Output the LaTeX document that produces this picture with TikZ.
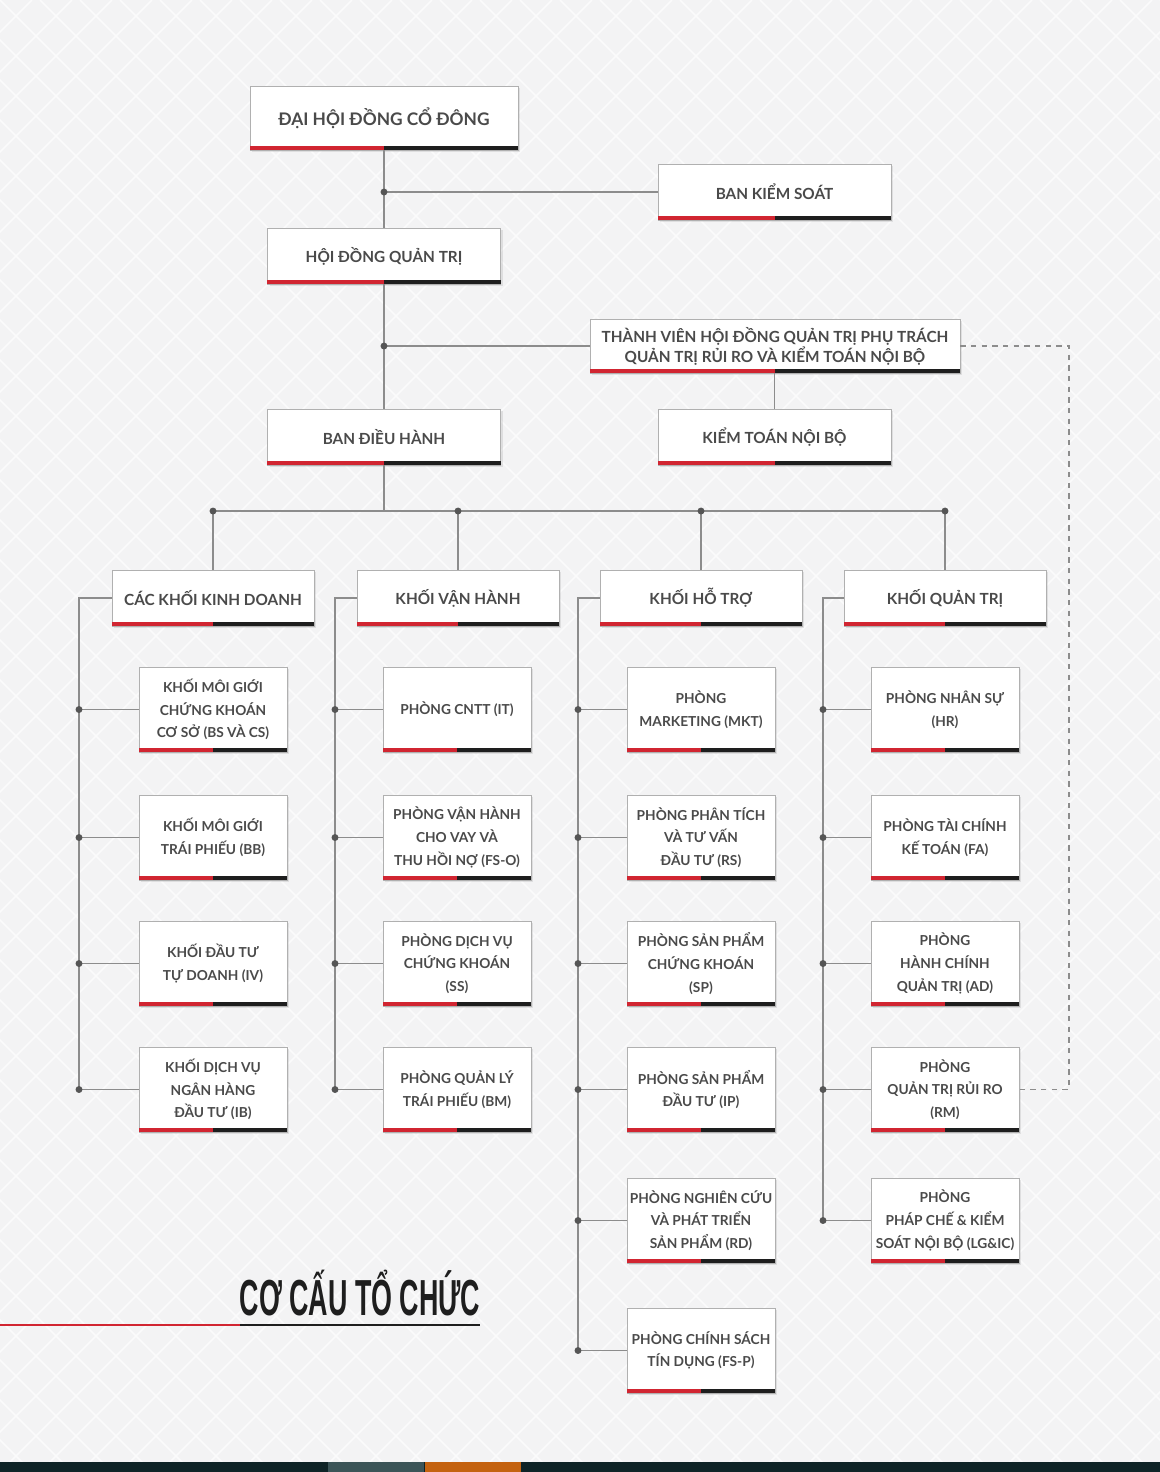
\documentclass[tikz,border=0pt]{standalone}
\usepackage{fontspec}
\setmainfont{Lato}
\newfontfamily\titlefont{Liberation Sans}
\usetikzlibrary{shadows}
\definecolor{bgc}{HTML}{F3F3F4}
\definecolor{patc}{HTML}{FBFBFB}
\definecolor{redc}{HTML}{D12531}
\definecolor{darkc}{HTML}{1E1E1E}
\definecolor{linec}{HTML}{8C8C8C}
\definecolor{boxc}{HTML}{B0B0B0}
\definecolor{txtc}{HTML}{4A4A4A}
\definecolor{dotc}{HTML}{555555}
\definecolor{stripc}{HTML}{0E2326}
\definecolor{stripg}{HTML}{3B5457}
\definecolor{stripo}{HTML}{C4620F}
\newcommand\ob[7]{%
  \node[orgbox,#6,minimum width=#4*0.75pt,minimum height=#5*0.75pt] (#1) at (#2,#3) {#7};
  \fill[redc] (#1.south west) rectangle ([yshift=3pt]#1.south);
  \fill[darkc] (#1.south) rectangle ([yshift=3pt]#1.south east);
}
\begin{document}
\begin{tikzpicture}[x=0.75pt,y=-0.75pt,
  orgbox/.style={draw=boxc,line width=0.6pt,fill=white,inner sep=0pt,align=center,text=txtc,
    drop shadow={opacity=0.18,shadow xshift=1.5pt,shadow yshift=-1.5pt}},
  bigb/.style={font=\bfseries\fontsize{13}{16}\selectfont},
  topb/.style={font=\bfseries\fontsize{11.5}{15}\selectfont},
  subb/.style={font=\bfseries\fontsize{10.3}{17}\selectfont},
  conn/.style={draw=linec,line width=1.1pt},
  dashc/.style={draw=linec,line width=1pt,dash pattern=on 4pt off 4pt}]
\useasboundingbox (0,0) rectangle (1160,1472);
\fill[bgc] (0,0) rectangle (1160,1472);
\begin{scope}
\clip (0,0) rectangle (1160,1462);
\foreach \i in {-1480,-1440,...,1160} {
  \draw[patc,line width=1.2pt] (\i,0) -- ++(1472,1472);
  \draw[patc,line width=1.2pt] (\i+1472,0) -- ++(-1472,1472);
}
\end{scope}
% bottom strip
\fill[stripc] (0,1462) rectangle (1160,1472);
\fill[stripg] (328,1462) rectangle (424,1472);
\fill[stripo] (425,1462) rectangle (521,1472);

% top boxes
\ob{dhd}{384}{118}{268}{64}{bigb}{ĐẠI HỘI ĐỒNG CỔ ĐÔNG}
\ob{bks}{774.5}{192}{233}{56}{topb}{BAN KIỂM SOÁT}
\ob{hdqt}{384}{256}{233}{56}{topb}{HỘI ĐỒNG QUẢN TRỊ}
\ob{tv}{775}{346}{370}{54}{topb}{THÀNH VIÊN HỘI ĐỒNG QUẢN TRỊ PHỤ TRÁCH\\QUẢN TRỊ RỦI RO VÀ KIỂM TOÁN NỘI BỘ}
\ob{bdh}{384}{437}{233}{56}{topb}{BAN ĐIỀU HÀNH}
\ob{ktnb}{774.5}{437}{233}{56}{topb}{KIỂM TOÁN NỘI BỘ}

% category boxes
\ob{c1}{213}{598}{202}{56}{topb}{CÁC KHỐI KINH DOANH}
\ob{c2}{458}{598}{202}{56}{topb}{KHỐI VẬN HÀNH}
\ob{c3}{701}{598}{202}{56}{topb}{KHỐI HỖ TRỢ}
\ob{c4}{945}{598}{202}{56}{topb}{KHỐI QUẢN TRỊ}

% column 1
\ob{a1}{213}{709.5}{148}{85}{subb}{KHỐI MÔI GIỚI\\CHỨNG KHOÁN\\CƠ SỞ (BS VÀ CS)}
\ob{a2}{213}{837.5}{148}{85}{subb}{KHỐI MÔI GIỚI\\TRÁI PHIẾU (BB)}
\ob{a3}{213}{963.5}{148}{85}{subb}{KHỐI ĐẦU TƯ\\TỰ DOANH (IV)}
\ob{a4}{213}{1089.5}{148}{85}{subb}{KHỐI DỊCH VỤ\\NGÂN HÀNG\\ĐẦU TƯ (IB)}
% column 2
\ob{b1}{457}{709.5}{148}{85}{subb}{PHÒNG CNTT (IT)}
\ob{b2}{457}{837.5}{148}{85}{subb}{PHÒNG VẬN HÀNH\\CHO VAY VÀ\\THU HỒI NỢ (FS-O)}
\ob{b3}{457}{963.5}{148}{85}{subb}{PHÒNG DỊCH VỤ\\CHỨNG KHOÁN\\(SS)}
\ob{b4}{457}{1089.5}{148}{85}{subb}{PHÒNG QUẢN LÝ\\TRÁI PHIẾU (BM)}
% column 3
\ob{e1}{701}{709.5}{148}{85}{subb}{PHÒNG\\MARKETING (MKT)}
\ob{e2}{701}{837.5}{148}{85}{subb}{PHÒNG PHÂN TÍCH\\VÀ TƯ VẤN\\ĐẦU TƯ (RS)}
\ob{e3}{701}{963.5}{148}{85}{subb}{PHÒNG SẢN PHẨM\\CHỨNG KHOÁN\\(SP)}
\ob{e4}{701}{1089.5}{148}{85}{subb}{PHÒNG SẢN PHẨM\\ĐẦU TƯ (IP)}
\ob{e5}{701}{1220.5}{148}{85}{subb}{PHÒNG NGHIÊN CỨU\\VÀ PHÁT TRIỂN\\SẢN PHẨM (RD)}
\ob{e6}{701}{1350.5}{148}{85}{subb}{PHÒNG CHÍNH SÁCH\\TÍN DỤNG (FS-P)}
% column 4
\ob{f1}{945}{709.5}{148}{85}{subb}{PHÒNG NHÂN SỰ\\(HR)}
\ob{f2}{945}{837.5}{148}{85}{subb}{PHÒNG TÀI CHÍNH\\KẾ TOÁN (FA)}
\ob{f3}{945}{963.5}{148}{85}{subb}{PHÒNG\\HÀNH CHÍNH\\QUẢN TRỊ (AD)}
\ob{f4}{945}{1089.5}{148}{85}{subb}{PHÒNG\\QUẢN TRỊ RỦI RO\\(RM)}
\ob{f5}{945}{1220.5}{148}{85}{subb}{PHÒNG\\PHÁP CHẾ \& KIỂM\\SOÁT NỘI BỘ (LG\&IC)}

% junction coordinates
\coordinate (j1) at (384,192);
\coordinate (j2) at (384,346);
\coordinate (bus) at (384,511);
\coordinate (dx) at (1069,346);

% top connectors
\draw[conn] (dhd.south) -- (hdqt.north);
\draw[conn] (j1) -- (bks.west);
\draw[conn] (hdqt.south) -- (bdh.north);
\draw[conn] (j2) -- (tv.west);
\draw[conn] (ktnb.north) -- (ktnb.north |- tv.south);
\draw[conn] (bdh.south) -- (bus);
\draw[conn] (c1.north |- bus) -- (c4.north |- bus);
\foreach \c in {c1,c2,c3,c4} {
  \draw[conn] (\c.north |- bus) -- (\c.north);
  \fill[dotc] (\c.north |- bus) circle (2.6pt);
}
\fill[dotc] (j1) circle (2.6pt);
\fill[dotc] (j2) circle (2.6pt);

% dashed link
\draw[dashc] (tv.east) -- (dx) |- (f4.east);

% column brackets
\coordinate (x1) at (79,0);
\coordinate (x2) at (335,0);
\coordinate (x3) at (578,0);
\coordinate (x4) at (823,0);
\draw[conn] (c1.west) -| (x1 |- a4.west);
\draw[conn] (c2.west) -| (x2 |- b4.west);
\draw[conn] (c3.west) -| (x3 |- e6.west);
\draw[conn] (c4.west) -| (x4 |- f5.west);
\foreach \n in {a1,a2,a3,a4} {\draw[conn] (x1 |- \n.west) -- (\n.west); \fill[dotc] (x1 |- \n.west) circle (2.6pt);}
\foreach \n in {b1,b2,b3,b4} {\draw[conn] (x2 |- \n.west) -- (\n.west); \fill[dotc] (x2 |- \n.west) circle (2.6pt);}
\foreach \n in {e1,e2,e3,e4,e5,e6} {\draw[conn] (x3 |- \n.west) -- (\n.west); \fill[dotc] (x3 |- \n.west) circle (2.6pt);}
\foreach \n in {f1,f2,f3,f4,f5} {\draw[conn] (x4 |- \n.west) -- (\n.west); \fill[dotc] (x4 |- \n.west) circle (2.6pt);}

% title
\node[font=\titlefont\bfseries\fontsize{38}{38}\selectfont,text=darkc,xscale=0.53,inner sep=0pt] (title) at (360,1293) {CƠ CẤU TỔ CHỨC};
\coordinate (tl) at (0,1325);
\coordinate (tm) at (240,1325);
\coordinate (tr) at (480,1325);
\draw[redc,line width=1.6pt] (tl) -- (tm);
\draw[darkc,line width=1.6pt] (tm) -- (tr);
\end{tikzpicture}
\end{document}
